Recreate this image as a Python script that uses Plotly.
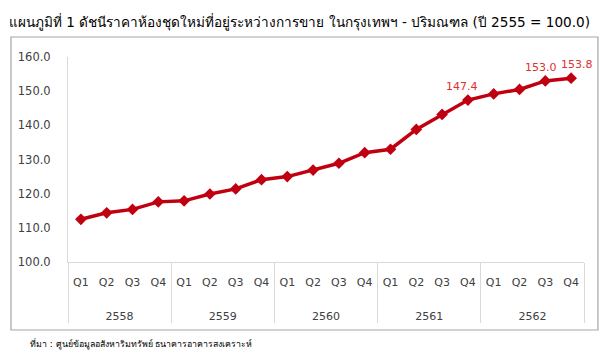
import plotly.graph_objects as go

years = ["2558"] * 4 + ["2559"] * 4 + ["2560"] * 4 + ["2561"] * 4 + ["2562"] * 4
quarters = ["Q1", "Q2", "Q3", "Q4"] * 5
index_values = [112.5, 114.4, 115.4, 117.6, 117.9, 119.9, 121.4, 124.1, 125.0, 126.9,
                128.9, 132.0, 133.0, 138.8, 143.2, 147.4, 149.2, 150.5, 153.0, 153.8]
labeled_points = [15, 18, 19]
label_xshift = [-6, -4, 6]
y_ticks = [100, 110, 120, 130, 140, 150, 160]

title_text = "แผนภูมิที่ 1 ดัชนีราคาห้องชุดใหม่ที่อยู่ระหว่างการขาย ในกรุงเทพฯ - ปริมณฑล (ปี 2555 = 100.0)"
source_text = "ที่มา : ศูนย์ข้อมูลอสังหาริมทรัพย์ ธนาคารอาคารสงเคราะห์"

FONT = "DejaVu Sans, Tahoma, sans-serif"

fig = go.Figure()
fig.add_trace(go.Scatter(
    x=[["&nbsp;<br>&nbsp;<br>" + y for y in years], quarters],
    y=index_values,
    mode="lines+markers",
    line=dict(color="#c00010", width=3.5),
    marker=dict(symbol="diamond", size=9, color="#c00010"),
    showlegend=False,
))

annotations = []
for idx, dx in zip(labeled_points, label_xshift):
    annotations.append(dict(
        x=idx, y=index_values[idx], xref="x", yref="y",
        text=f"{index_values[idx]:.1f}", showarrow=False,
        xanchor="center", yanchor="bottom", xshift=dx, yshift=5,
        font=dict(size=11, color="#e03030", family=FONT),
    ))

annotations += [
    dict(text=title_text, xref="paper", yref="paper",
         x=-0.118, y=1.115, xanchor="left", yanchor="bottom", showarrow=False,
         font=dict(size=13.6, color="#000000", family=FONT)),
    dict(text=source_text, xref="paper", yref="paper",
         x=-0.078, y=-0.36, xanchor="left", yanchor="top", showarrow=False,
         font=dict(size=8.8, color="#000000", family=FONT)),
]

fig.update_layout(
    width=602, height=352,
    margin=dict(l=60, r=26, t=49, b=98),
    paper_bgcolor="white", plot_bgcolor="white",
    font=dict(family=FONT, color="#404040"),
    xaxis=dict(
        type="multicategory",
        range=[-0.5, 19.5],
        automargin=False,
        showline=True, linecolor="#d9d9d9", linewidth=1,
        showgrid=False, zeroline=False,
        showdividers=True, dividercolor="#d9d9d9", dividerwidth=1,
        tickfont=dict(size=11, color="#404040"),
        ticks="",
        ticklabelstandoff=10,
    ),
    yaxis=dict(
        automargin=False,
        range=[100, 160],
        tickvals=y_ticks,
        tickformat=".1f",
        showline=True, linecolor="#d9d9d9", linewidth=1,
        showgrid=False, zeroline=False,
        tickfont=dict(size=11.5, color="#404040"),
        ticklabelstandoff=14,
    ),
    shapes=[dict(
        type="rect", xref="paper", yref="paper",
        x0=-0.1105, x1=1.027, y0=-0.3317, y1=1.0976,
        line=dict(color="#a6a6a6", width=1.2),
        fillcolor="rgba(0,0,0,0)", layer="below",
    )],
    annotations=annotations,
)

fig.write_html("out.html")
